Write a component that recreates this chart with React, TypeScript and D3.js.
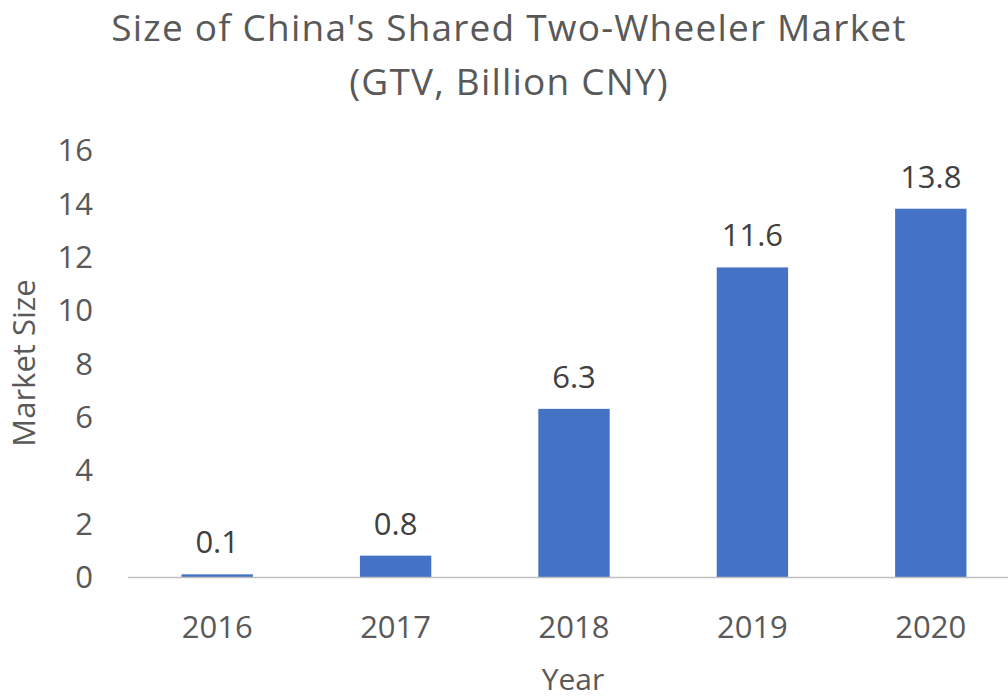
import React from 'react';
import * as d3 from 'd3';

// chart data
const years = ['2016', '2017', '2018', '2019', '2020'];
const marketSize = [0.1, 0.8, 6.3, 11.6, 13.8];
const yTicks = [0, 2, 4, 6, 8, 10, 12, 14, 16];

const W = 1008;
const H = 699;
const FONT = '"Open Sans", "Noto Sans", sans-serif';

const App = () => {
  const x = d3.scaleBand<string>()
    .domain(years)
    .range([128, 1020])
    .paddingInner(0.6)
    .paddingOuter(0.3);

  const y = d3.scaleLinear().domain([0, 16]).range([577, 150]);
  const cx = (yr: string) => (x(yr) as number) + x.bandwidth() / 2;

  return (
    <svg width={W} height={H} style={{ position: 'absolute', left: 0, top: 0, background: '#fff' }}
      fontFamily={FONT}>
      {/* title */}
      <text x={509} y={41} textAnchor="middle" fontSize={37} letterSpacing={1.2} fill="#595959">
        Size of China's Shared Two-Wheeler Market
      </text>
      <text x={509} y={95} textAnchor="middle" fontSize={37} letterSpacing={1.2} fill="#595959">
        (GTV, Billion CNY)
      </text>

      {/* y ticks */}
      {yTicks.map(t => (
        <text key={t} x={93} y={y(t)} dy="0.36em" textAnchor="end" fontSize={31} fill="#595959">
          {t}
        </text>
      ))}

      {/* bars */}
      {years.map((yr, i) => (
        <rect key={yr} x={x(yr)} y={y(marketSize[i])} width={x.bandwidth()}
          height={y(0) - y(marketSize[i])} fill="#4472C4" />
      ))}

      {/* axis line */}
      <line x1={128} x2={W} y1={y(0) + 0.5} y2={y(0) + 0.5} stroke="#BFBFBF" strokeWidth={1.5} />

      {/* value labels */}
      {years.map((yr, i) => (
        <text key={yr} x={cx(yr)} y={y(marketSize[i]) - 21}
          textAnchor="middle" fontSize={31} fill="#404040">
          {marketSize[i].toFixed(1)}
        </text>
      ))}

      {/* x labels */}
      {years.map(yr => (
        <text key={yr} x={cx(yr)} y={638} textAnchor="middle" fontSize={31} fill="#595959">
          {yr}
        </text>
      ))}

      {/* axis titles */}
      <text x={573} y={690} textAnchor="middle" fontSize={30} fill="#595959">Year</text>
      <text transform="translate(35,363) rotate(-90)" textAnchor="middle" fontSize={31}
        fill="#595959">
        Market Size
      </text>
    </svg>
  );
};

export default App;
